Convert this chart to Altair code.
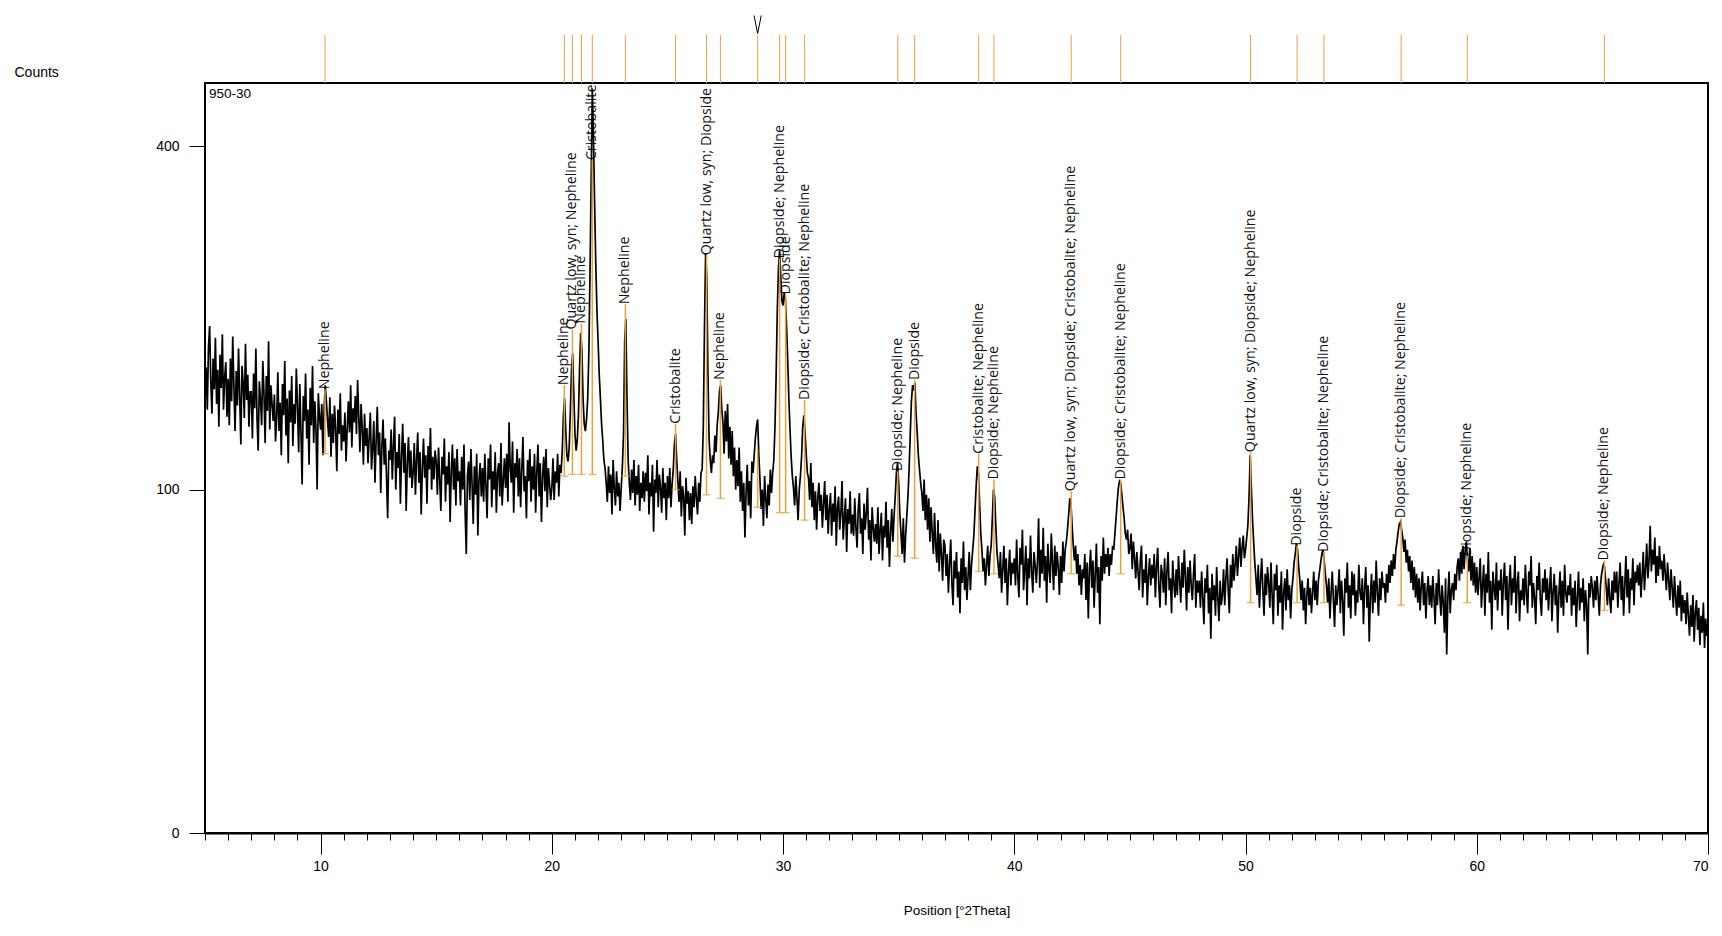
import altair as alt
import pandas as pd

# ---------------- data ----------------
theta_start = 5.0
theta_step = 0.05
counts = [
    164, 184, 152, 200, 218, 174, 149, 191, 167, 208, 156, 182, 140, 194, 168, 211, 152, 176, 188, 147,
    175, 141, 191, 158, 209, 169, 137, 181, 155, 199, 162, 128, 185, 172, 146, 203, 159, 178, 140, 165,
    165, 132, 179, 153, 199, 145, 124, 173, 159, 141, 189, 164, 129, 177, 151, 205, 138, 170, 156, 144,
    163, 130, 146, 180, 137, 157, 121, 171, 148, 189, 134, 160, 116, 166, 143, 177, 127, 156, 142, 183,
    155, 123, 171, 136, 103, 162, 144, 179, 132, 152, 115, 168, 141, 185, 129, 158, 138, 100, 164, 147,
    138, 156, 121, 152, 170, 158, 144, 133, 161, 120, 149, 129, 155, 138, 111, 152, 135, 164, 124, 141,
    130, 150, 117, 139, 158, 136, 170, 126, 153, 143, 162, 135, 174, 147, 123, 156, 139, 115, 149, 127,
    139, 116, 133, 150, 112, 125, 144, 104, 130, 154, 121, 136, 98, 127, 145, 115, 132, 107, 84, 124,
    118, 138, 106, 127, 147, 100, 123, 113, 135, 92, 120, 142, 110, 129, 88, 116, 133, 107, 124, 101,
    110, 129, 97, 118, 136, 104, 123, 86, 113, 132, 107, 121, 92, 127, 112, 139, 100, 120, 106, 124,
    117, 97, 126, 106, 88, 120, 109, 132, 93, 114, 103, 123, 82, 111, 128, 100, 119, 91, 125, 105,
    111, 91, 120, 100, 128, 87, 66, 108, 117, 94, 125, 103, 81, 114, 97, 122, 75, 106, 116, 96,
    113, 93, 122, 102, 84, 119, 106, 128, 90, 111, 100, 123, 87, 110, 116, 96, 129, 91, 105, 119,
    101, 122, 93, 143, 113, 104, 130, 87, 116, 107, 125, 96, 119, 90, 112, 133, 99, 108, 84, 118,
    105, 125, 93, 114, 100, 122, 87, 111, 128, 96, 116, 82, 108, 120, 99, 125, 90, 113, 103, 94,
    101, 119, 94, 111, 104, 122, 96, 115, 110, 124, 148, 160, 138, 121, 117, 126, 150, 182, 195, 163,
    135, 124, 131, 148, 184, 212, 198, 160, 142, 137, 145, 160, 195, 265, 360, 470, 410, 335, 275, 232,
    205, 178, 160, 142, 131, 118, 113, 104, 93, 114, 98, 109, 86, 118, 101, 91, 111, 96, 104, 88,
    101, 114, 135, 205, 224, 160, 118, 104, 94, 112, 98, 118, 91, 108, 97, 115, 88, 104, 95, 111,
    93, 110, 99, 121, 86, 104, 96, 115, 77, 106, 98, 118, 90, 109, 101, 87, 113, 95, 104, 83,
    108, 95, 113, 90, 103, 112, 128, 135, 118, 105, 93, 111, 85, 102, 96, 75, 107, 92, 99, 83,
    98, 81, 102, 90, 108, 95, 86, 104, 93, 110, 112, 140, 215, 285, 262, 180, 132, 118, 110, 121,
    116, 134, 123, 141, 150, 166, 170, 152, 143, 122, 151, 130, 156, 119, 140, 115, 137, 108, 126, 100,
    118, 102, 126, 93, 111, 88, 104, 74, 98, 115, 91, 105, 84, 117, 110, 121, 132, 140, 145, 122,
    106, 89, 100, 80, 108, 95, 84, 103, 91, 112, 98, 110, 118, 140, 178, 232, 270, 288, 262, 240,
    236, 248, 242, 218, 190, 160, 138, 120, 108, 101, 91, 108, 95, 83, 100, 108, 120, 140, 148, 136,
    122, 110, 107, 94, 116, 90, 104, 83, 99, 78, 95, 104, 88, 97, 79, 92, 105, 83, 97, 76,
    89, 98, 75, 92, 82, 102, 70, 90, 96, 78, 87, 105, 73, 84, 95, 67, 89, 81, 99, 76,
    86, 75, 95, 79, 69, 89, 98, 76, 84, 66, 92, 78, 87, 101, 73, 83, 63, 90, 79, 72,
    81, 71, 90, 66, 78, 87, 63, 80, 74, 93, 69, 83, 60, 77, 89, 72, 85, 96, 110, 116,
    104, 86, 76, 66, 84, 62, 75, 85, 96, 112, 135, 158, 170, 166, 172, 150, 136, 121, 112, 104,
    98, 88, 106, 83, 97, 78, 95, 72, 90, 76, 66, 87, 70, 62, 83, 58, 76, 66, 54, 73,
    70, 56, 66, 49, 61, 73, 53, 44, 63, 55, 67, 47, 58, 41, 64, 53, 72, 50, 60, 46,
    56, 67, 50, 61, 68, 75, 88, 102, 114, 110, 92, 76, 68, 58, 64, 52, 61, 70, 56, 65,
    70, 84, 100, 96, 80, 67, 61, 55, 67, 49, 59, 70, 53, 64, 44, 58, 68, 52, 62, 57,
    64, 52, 73, 56, 47, 69, 61, 78, 50, 59, 70, 44, 64, 55, 75, 58, 49, 67, 61, 53,
    62, 84, 51, 68, 57, 79, 54, 65, 45, 71, 59, 53, 76, 62, 50, 70, 56, 67, 60, 48,
    65, 53, 72, 58, 68, 72, 78, 86, 95, 92, 80, 70, 63, 70, 57, 66, 52, 61, 48, 59,
    55, 66, 46, 62, 39, 59, 68, 51, 63, 43, 57, 71, 49, 60, 37, 65, 54, 74, 57, 66,
    60, 69, 56, 66, 61, 70, 68, 76, 84, 93, 101, 105, 104, 97, 90, 84, 76, 73, 78, 66,
    69, 76, 59, 72, 64, 55, 67, 58, 50, 63, 70, 47, 59, 53, 66, 44, 56, 64, 52, 61,
    55, 66, 47, 60, 69, 52, 43, 61, 57, 49, 64, 44, 58, 67, 50, 55, 41, 63, 53, 47,
    59, 48, 65, 54, 45, 62, 51, 68, 56, 42, 60, 49, 63, 52, 46, 57, 66, 43, 54, 49,
    54, 43, 58, 47, 37, 55, 49, 61, 41, 51, 32, 57, 46, 52, 40, 60, 47, 38, 54, 44,
    48, 59, 44, 55, 64, 50, 41, 61, 51, 66, 54, 61, 70, 56, 65, 74, 60, 69, 75, 64,
    68, 74, 80, 95, 121, 102, 84, 72, 62, 55, 48, 61, 43, 54, 64, 50, 40, 57, 48, 60,
    53, 43, 62, 48, 37, 57, 50, 61, 40, 52, 45, 58, 35, 49, 55, 42, 59, 46, 52, 39,
    50, 55, 62, 66, 71, 68, 60, 54, 46, 54, 42, 51, 37, 48, 55, 44, 51, 41, 49, 58,
    46, 54, 44, 54, 58, 62, 66, 68, 63, 57, 52, 45, 55, 39, 49, 58, 46, 36, 52, 44,
    50, 59, 41, 54, 46, 33, 55, 49, 62, 43, 52, 39, 58, 48, 57, 40, 50, 45, 61, 49,
    46, 55, 37, 51, 60, 43, 52, 31, 48, 57, 41, 54, 45, 63, 49, 40, 55, 46, 58, 51,
    53, 45, 57, 49, 61, 53, 63, 56, 66, 59, 68, 72, 77, 81, 82, 78, 74, 67, 73, 62,
    68, 58, 65, 53, 63, 50, 60, 47, 57, 45, 55, 42, 52, 58, 44, 53, 39, 50, 56, 44,
    52, 43, 56, 47, 37, 53, 44, 59, 48, 40, 52, 45, 34, 55, 27, 47, 58, 41, 50, 53,
    46, 57, 50, 60, 64, 54, 67, 57, 70, 59, 68, 72, 63, 58, 69, 54, 65, 52, 62, 49,
    60, 48, 55, 64, 43, 52, 61, 40, 57, 49, 67, 45, 54, 35, 58, 51, 46, 62, 42, 54,
    50, 59, 40, 53, 62, 46, 56, 35, 52, 61, 44, 55, 49, 65, 41, 53, 58, 38, 50, 46,
    55, 44, 61, 49, 41, 58, 52, 65, 43, 53, 47, 37, 56, 50, 62, 46, 40, 55, 49, 59,
    46, 55, 42, 51, 60, 38, 49, 57, 44, 52, 34, 48, 58, 43, 54, 40, 61, 49, 45, 52,
    48, 57, 40, 51, 44, 54, 36, 47, 58, 42, 51, 45, 55, 38, 50, 44, 27, 53, 47, 56,
    51, 43, 54, 46, 56, 48, 40, 52, 57, 60, 62, 57, 51, 44, 55, 47, 41, 54, 46, 58,
    49, 58, 43, 53, 62, 46, 56, 40, 52, 65, 47, 59, 41, 55, 50, 64, 44, 58, 53, 61,
    52, 62, 47, 56, 67, 50, 59, 71, 55, 63, 80, 58, 68, 61, 74, 53, 65, 56, 70, 59,
    63, 54, 66, 57, 50, 62, 54, 46, 59, 51, 43, 56, 47, 40, 52, 43, 54, 38, 48, 41,
    46, 37, 49, 40, 33, 44, 36, 48, 31, 41, 46, 35, 43, 30, 40, 34, 45, 29, 39, 33,
    35,
]

peak_pos = [10.19, 20.54, 20.89, 21.28, 21.75, 23.18, 25.35, 26.69, 27.29, 28.90,
            29.85, 30.11, 30.93, 34.96, 35.69, 38.46, 39.12, 42.46, 44.60, 50.22,
            52.23, 53.39, 56.73, 59.59, 65.52]
peak_labels = ["Nepheline", "Nepheline", "Quartz low, syn; Nepheline", "Nepheline",
               "Cristobalite", "Nepheline", "Cristobalite", "Quartz low, syn; Diopside",
               "Nepheline", "", "Diopside; Nepheline", "Diopside",
               "Diopside; Cristobalite; Nepheline", "Diopside; Nepheline", "Diopside",
               "Cristobalite; Nepheline", "Diopside; Nepheline",
               "Quartz low, syn; Diopside; Cristobalite; Nepheline",
               "Diopside; Cristobalite; Nepheline", "Quartz low, syn; Diopside; Nepheline",
               "Diopside", "Diopside; Cristobalite; Nepheline",
               "Diopside; Cristobalite; Nepheline", "Diopside; Nepheline",
               "Diopside; Nepheline"]
peak_top = [167, 170, 215, 220, 384, 237, 142, 283, 174, 125,
            280, 246, 159, 111, 174, 122, 106, 99, 106, 123,
            70, 67, 84, 65, 63]
peak_base = [122, 108, 109, 109, 109, 108, 100, 97, 95, 90,
             87, 87, 83, 65, 64, 58, 57, 57, 57, 45,
             45, 45, 44, 45, 42]
marker_pos = [28.90]
sample_name = ["950-30"]

x_ticks = list(range(5, 71))
y_ticks = [0, 100, 400]

# ---------------- tables ----------------
scan = pd.DataFrame({
    "theta": [round(theta_start + i * theta_step, 2) for i in range(len(counts))],
    "counts": counts,
})
peaks = pd.DataFrame({"pos": peak_pos, "label": peak_labels,
                      "top": peak_top, "base": peak_base})
marker = pd.DataFrame({"pos": marker_pos})
caption = pd.DataFrame({"text": sample_name})

FONT = "Liberation Sans Narrow, Liberation Sans, Arial"
LABEL_FONT = "Open Sans"
ORANGE = "#E9A23B"

xscale = alt.Scale(domain=[5, 70], nice=False, zero=False)
yscale = alt.Scale(type="sqrt", domain=[0, 477], nice=False)

x_axis = alt.Axis(
    values=x_ticks,
    labelExpr="datum.value % 10 === 0 ? datum.label : ''",
    labelOverlap=False,
    tickSize={"condition": {"test": "datum.value % 10 === 0", "value": 21}, "value": 7},
    tickColor="black", tickWidth=1,
    domain=True, domainColor="black", domainWidth=2,
    grid=False,
    labelFont=FONT, labelFontSize=14, labelColor="black", labelPadding=5,
    title="Position [°2Theta]", titleFont=FONT, titleFontSize=13.5,
    titleFontWeight="normal", titleColor="black", titleY=77, titleBaseline="middle",
)
y_axis = alt.Axis(
    values=y_ticks, tickSize=16, tickColor="black", tickWidth=1,
    domain=False, grid=False,
    labelFont=FONT, labelFontSize=14, labelColor="black", labelPadding=10,
    title="Counts", titleFont=FONT, titleFontSize=14, titleFontWeight="normal",
    titleColor="black", titleAngle=0, titleX=-191, titleY=-11,
    titleAlign="left", titleBaseline="middle",
)

X = lambda f: alt.X(f, scale=xscale, axis=x_axis)
Y = lambda f: alt.Y(f, scale=yscale, axis=y_axis)

labels = alt.Chart(peaks).mark_text(angle=270, align="left", baseline="middle",
                                    font=LABEL_FONT, fontSize=14.2, color="#111111").encode(
    x=X("pos:Q"), y=Y("top:Q"), text="label:N")

line = alt.Chart(scan).mark_line(color="black", strokeWidth=1.7, clip=True).encode(
    x=X("theta:Q"), y=Y("counts:Q"))

sticks = alt.Chart(peaks).mark_rule(color=ORANGE, strokeWidth=1.5).encode(
    x=X("pos:Q"), y=Y("base:Q"), y2="top:Q")

bars = alt.Chart(peaks).mark_tick(color=ORANGE, orient="horizontal", size=8,
                                  thickness=1.5).encode(x=X("pos:Q"), y=Y("base:Q"))

strip = alt.Chart(peaks).mark_rule(color=ORANGE, strokeWidth=1, clip=False).encode(
    x=X("pos:Q"), y=alt.value(-48), y2=alt.value(0))

vmark = alt.Chart(marker).mark_point(shape="M -0.4 -1 L 0 1 L 0.4 -1", filled=False,
                                     stroke="black", strokeWidth=1, size=324,
                                     opacity=1, clip=False).encode(
    x=X("pos:Q"), y=alt.value(-58.5))

name = alt.Chart(caption).mark_text(align="left", baseline="middle", font=FONT,
                                    fontSize=13.5, color="black").encode(
    x=alt.value(4), y=alt.value(11), text="text:N")

chart = alt.layer(labels, line, sticks, bars, strip, vmark, name).properties(
    width=1503, height=750,
    autosize=alt.AutoSizeParams(type="none"),
    padding={"left": 197, "top": 75, "right": 4, "bottom": 85},
    background="white",
).configure_view(stroke="black", strokeWidth=2)

chart.save("out.html", embed_options={"renderer": "svg", "actions": False})
